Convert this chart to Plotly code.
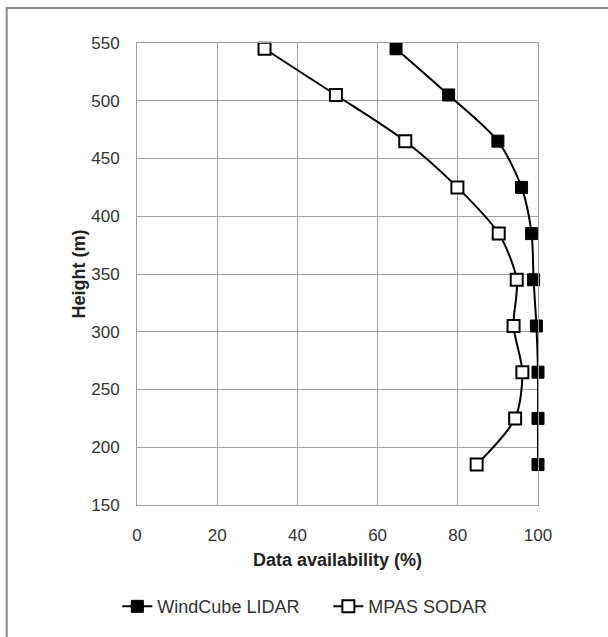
import plotly.graph_objects as go

# Measurement heights (m) and data availability (%) for each profiler
heights = [545, 505, 465, 425, 385, 345, 305, 265, 225, 185]
lidar_availability = [64.6, 77.7, 90.0, 95.9, 98.4, 98.9, 99.6, 100.0, 100.0, 100.0]
sodar_availability = [31.8, 49.6, 66.9, 79.9, 90.2, 94.7, 93.9, 96.1, 94.3, 84.7]

x_ticks = [0, 20, 40, 60, 80, 100]
y_ticks = [150, 200, 250, 300, 350, 400, 450, 500, 550]

FONT = "Liberation Sans, Arial, sans-serif"

fig = go.Figure()

fig.add_trace(go.Scatter(
    x=lidar_availability, y=heights, name="WindCube LIDAR",
    mode="lines+markers", cliponaxis=False,
    line=dict(color="black", width=2, shape="spline", smoothing=0.8),
    marker=dict(symbol="square", size=12, color="black",
                line=dict(color="black", width=1)),
))

fig.add_trace(go.Scatter(
    x=sodar_availability, y=heights, name="MPAS SODAR",
    mode="lines+markers", cliponaxis=False,
    line=dict(color="black", width=2, shape="spline", smoothing=0.8),
    marker=dict(symbol="square", size=12, color="white",
                line=dict(color="black", width=2)),
))

axis_common = dict(
    showgrid=True, gridcolor="#a0a0a0", gridwidth=1,
    showline=True, linecolor="#a0a0a0", linewidth=1, mirror=True,
    zeroline=False,
    ticks="outside", tickcolor="rgba(0,0,0,0)",
    tickfont=dict(family=FONT, size=17, color="#333333"),
)

fig.update_xaxes(
    range=[0, 100], tickvals=x_ticks, ticklen=15,
    title=dict(text="<b>Data availability (%)</b>", standoff=8,
               font=dict(family=FONT, size=18, color="#222222")),
    **axis_common,
)
fig.update_yaxes(
    range=[150, 550], tickvals=y_ticks, ticklen=13,
    title=dict(text="<b>Height (m)</b>", standoff=0,
               font=dict(family=FONT, size=18, color="#222222")),
    **axis_common,
)

# Chart-area frame around the whole figure
fig.add_shape(
    type="rect", xref="paper", yref="paper",
    x0=-0.325, x1=1.3, y0=-0.5, y1=1.0758,
    line=dict(color="#888888", width=2), fillcolor="rgba(0,0,0,0)",
    layer="below",
)

fig.update_layout(
    width=608, height=637,
    margin=dict(l=137, r=70, t=43, b=132),
    paper_bgcolor="white", plot_bgcolor="white",
    font=dict(family=FONT, size=17, color="#222222"),
    showlegend=True,
    legend=dict(orientation="h", x=-0.049, xanchor="left",
                y=-0.22, yanchor="middle",
                font=dict(family=FONT, size=18, color="#333333"),
                itemwidth=30, entrywidth=166, tracegroupgap=0),
)

fig.write_html("out.html")
